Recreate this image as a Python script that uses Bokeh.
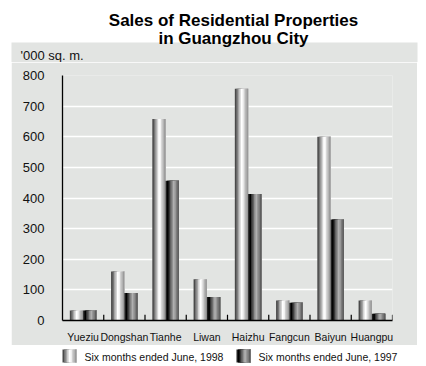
from bokeh.plotting import figure
from bokeh.layouts import column, row
from bokeh.models import ColumnDataSource, FactorRange, Range1d, FixedTicker, Spacer
from bokeh.core.properties import value
from bokeh.transform import dodge
from bokeh.embed import file_html
from bokeh.resources import INLINE

# ---- data ----
districts = ["Yueziu", "Dongshan", "Tianhe", "Liwan", "Haizhu", "Fangcun", "Baiyun", "Huangpu"]
sales_1998 = [33, 160, 658, 135, 757, 65, 600, 65]
sales_1997 = [33, 90, 456, 77, 413, 58, 330, 22]
y_ticks = [0, 100, 200, 300, 400, 500, 600, 700, 800]
series_labels = ["Six months ended June, 1998", "Six months ended June, 1997"]
title_lines = ["Sales of Residential Properties", "in Guangzhou City"]
unit_label = "'000 sq. m."

# ---- style ----
PANEL = "#e2e4e2"
FONT = "Liberation Sans"
TXT = "#111111"
STRIPES_98 = ["#4a4a4a", "#767676", "#a6a6a6", "#d4d4d4", "#ffffff", "#f4f4f4", "#d0d0d0", "#b4b4b4", "#9a9a9a"]
STRIPES_97 = ["#202020", "#000000", "#383838", "#646464", "#909090", "#b0b0b0", "#989898", "#7c7c7c", "#5e5e5e"]
BAR_W = 0.3225
TICK_LEN = 19


def blank_fig(w, h):
    f = figure(width=w, height=h, x_range=Range1d(0, w), y_range=Range1d(h, 0),
               x_axis_type=None, y_axis_type=None, min_border=0, frame_align=False,
               outline_line_color=None, toolbar_location=None, output_backend="svg",
               background_fill_color="white", border_fill_color="white")
    f.grid.visible = False
    return f


# ---- header: title + unit label ----
head = blank_fig(426, 62)
head.quad(left=11, right=417, top=42, bottom=62, fill_color=PANEL, line_color=None)
head.text(x=[233, 233], y=[20, 38], text=title_lines, text_align="center",
          text_baseline="alphabetic", text_font=value(FONT), text_font_style="bold",
          text_font_size=value("17px"), text_color="black")
head.text(x=[20], y=[55], text=[unit_label], text_align="left", text_baseline="alphabetic",
          text_font=value(FONT), text_font_size=value("13px"), text_color=TXT)

# ---- main chart ----
p = figure(x_range=FactorRange(*districts), y_range=Range1d(0, 800),
           width=406, height=283, output_backend="svg", toolbar_location=None,
           min_border_left=51, min_border_right=25, min_border_top=13, min_border_bottom=25,
           background_fill_color=PANEL, border_fill_color=PANEL, outline_line_color=None,
           frame_align=False)

src = ColumnDataSource(dict(district=districts, s98=sales_1998, s97=sales_1997))


def draw_bar(col, colors, center):
    n = len(colors)
    sw = BAR_W / n
    left0 = center - BAR_W / 2
    right = center + BAR_W / 2
    for i, c in enumerate(colors):
        left = left0 + i * sw
        p.vbar(x=dodge("district", (left + right) / 2, range=p.x_range), top=col, bottom=0,
               width=right - left, source=src, fill_color=c, line_color=None)


draw_bar("s98", STRIPES_98, -BAR_W / 2)
draw_bar("s97", STRIPES_97, BAR_W / 2)

# boundary tick marks on the x axis
p.segment(x0=dodge("district", 0.5, range=p.x_range), y0=0,
          x1=dodge("district", 0.5, range=p.x_range), y1=TICK_LEN,
          source=src, line_color="black", line_width=1.2)

p.yaxis.ticker = FixedTicker(ticks=y_ticks)
p.yaxis.major_tick_line_color = None
p.yaxis.minor_tick_line_color = None
p.yaxis.axis_line_color = "black"
p.yaxis.axis_line_width = 1.3
p.yaxis.major_label_standoff = 12
p.yaxis.major_label_text_font = FONT
p.yaxis.major_label_text_font_size = "13px"
p.yaxis.major_label_text_color = TXT

p.xaxis.major_tick_line_color = None
p.xaxis.axis_line_color = "black"
p.xaxis.axis_line_width = 1.3
p.xaxis.major_label_standoff = 4
p.xaxis.major_label_text_font = FONT
p.xaxis.major_label_text_font_size = "10.5px"
p.xaxis.major_label_text_color = TXT

p.xgrid.grid_line_color = None
p.ygrid.ticker = FixedTicker(ticks=y_ticks[1:])
p.ygrid.grid_line_color = "white"
p.ygrid.grid_line_width = 1.3

# ---- legend strip ----
leg = blank_fig(426, 21)
for sx, colors, label in [(62, STRIPES_98, series_labels[0]), (236, STRIPES_97, series_labels[1])]:
    n = len(colors)
    sw = 14 / n
    for i, c in enumerate(colors):
        leg.quad(left=sx + i * sw, right=sx + 14, top=4, bottom=17, fill_color=c, line_color=None)
    leg.text(x=[sx + 22], y=[11], text=[label], text_align="left", text_baseline="middle",
             text_font=value(FONT), text_font_size=value("10.5px"), text_color=TXT)

layout = column(head, row(Spacer(width=11, height=283), p, spacing=0), leg, spacing=0)
open("out.html", "w").write(file_html(layout, INLINE))
